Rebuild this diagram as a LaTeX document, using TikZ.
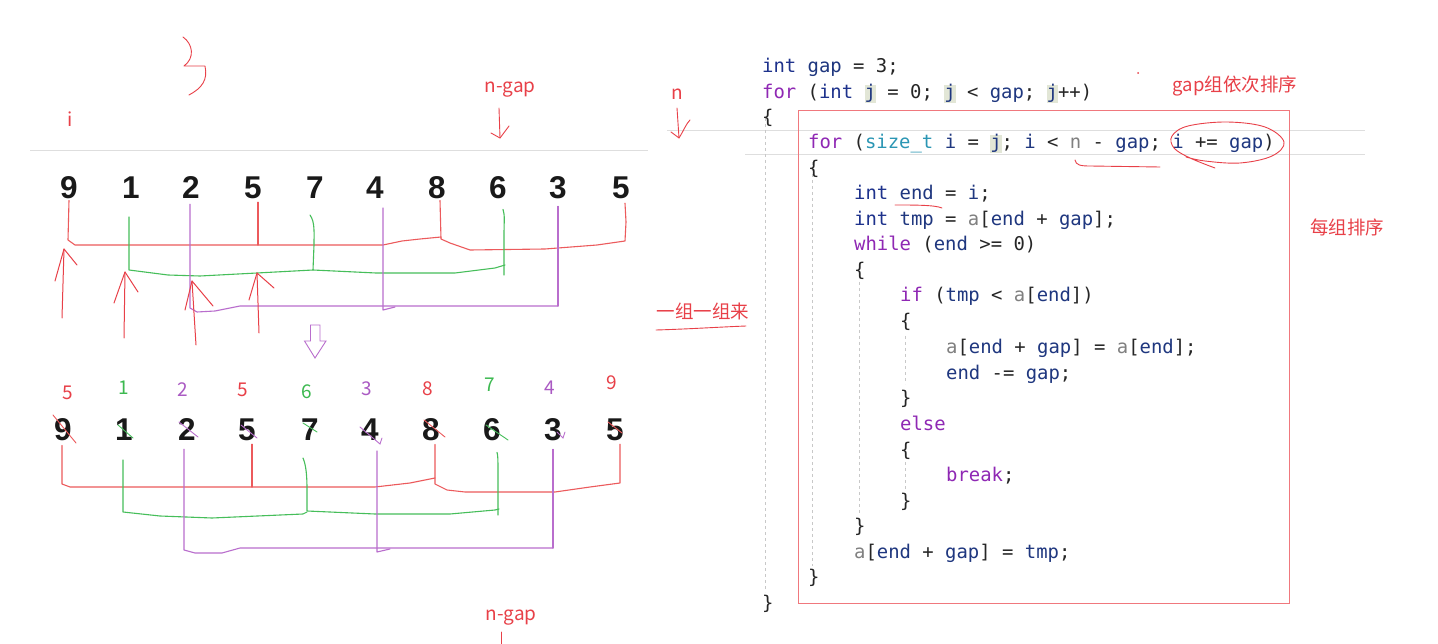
\documentclass[tikz,border=0pt]{standalone}
\usepackage{fontspec}
\setmainfont{Liberation Sans}
\newfontfamily\cjk{Noto Sans CJK SC}
\newfontfamily\codefont{DejaVu Sans Mono}
\newfontfamily\digfont{Liberation Sans}
\usetikzlibrary{calc}
\definecolor{lblred}{RGB}{232,64,72}
\definecolor{lnred}{RGB}{236,90,92}
\definecolor{lngreen}{RGB}{70,190,90}
\definecolor{lblgreen}{RGB}{60,185,80}
\definecolor{lnpurple}{RGB}{185,110,205}
\definecolor{lblpurple}{RGB}{170,90,195}
\definecolor{boxred}{RGB}{240,120,125}
\definecolor{cvar}{RGB}{31,55,127}
\definecolor{ckw}{RGB}{30,50,140}
\definecolor{cctl}{RGB}{143,40,180}
\definecolor{ctyp}{RGB}{43,150,180}
\definecolor{cdim}{RGB}{128,128,128}
\definecolor{hlbg}{RGB}{226,230,214}
\definecolor{guide}{RGB}{200,200,200}
\definecolor{rulec}{RGB}{222,222,222}
\newcommand\cdVar[1]{\textcolor{cvar}{#1}}
\newcommand\cdKw[1]{\textcolor{ckw}{#1}}
\newcommand\cdCtl[1]{\textcolor{cctl}{#1}}
\newcommand\cdTyp[1]{\textcolor{ctyp}{#1}}
\newcommand\cdDim[1]{\textcolor{cdim}{#1}}
\newcommand\cdHl[1]{{\setlength{\fboxsep}{0pt}\colorbox{hlbg}{\vphantom{Ij}#1}}}
\begin{document}
\begin{tikzpicture}[x=1pt,y=-1pt,
  dig/.style={font=\digfont\bfseries\fontsize{31.5}{31.5}\selectfont, inner sep=1pt, text=black!90},
  lbl/.style={font=\cjk\fontsize{19}{19}\selectfont, inner sep=0pt},
  note/.style={font=\cjk\fontsize{18.5}{18.5}\selectfont, text=lblred, inner sep=0pt},
  code/.style={font=\codefont\fontsize{18.9}{20}\selectfont, anchor=base west, inner sep=0pt, text=black!85},
  rb/.style={draw=lnred, line width=1.1pt, line join=round, line cap=round},
  gb/.style={draw=lngreen, line width=1.1pt, line join=round, line cap=round},
  pb/.style={draw=lnpurple, line width=1.1pt, line join=round, line cap=round},
  ra/.style={draw=lblred, line width=1pt, line join=round, line cap=round},
  strike/.style={line width=0.9pt, line cap=round},
  guideline/.style={draw=guide, line width=0.8pt, dash pattern=on 3pt off 3pt}]
\useasboundingbox (0,0) rectangle (1438,644);
\fill[white] (0,0) rectangle (1438,644);

% ---------- rules ----------
\draw[rulec, line width=1pt] (30,151) -- (648,151);
\draw[rulec, line width=1pt] (667,131) -- (1365,131);
\draw[rulec, line width=1pt] (745,155) -- (1365,155);

% ---------- top scribbles ----------
\draw[ra, line width=0.9pt] (183,37) .. controls (193,44) and (195,58) .. (184,66) -- (205,66) .. controls (208,80) and (202,88) .. (189,95);
\node[lbl, text=lblred] (li) at (70,119) {i};
\node[lbl, text=lblred] (lngap) at (510,90) {n-gap};
\coordinate (ngapTip) at (500,138);
\draw[ra, line width=0.9pt] (499,108) -- (ngapTip);
\draw[ra, line width=0.9pt] (491,133) -- (ngapTip) -- (509,126);
\node[lbl, text=lblred] (ln) at (677,94) {n};
\coordinate (nTip) at (679,138);
\draw[ra, line width=0.9pt] (677,108) -- (nTip);
\draw[ra, line width=0.9pt] (671,132) -- (nTip) .. controls (684,130) and (686,124) .. (690,120);

% ---------- row 1 ----------
\foreach \v/\xx [count=\i from 0] in {9/69,1/131,2/191,5/253,7/315,4/375,8/437,6/498,3/558,5/621}
  \node[dig] (r1n\i) at (\xx,188) {\v};

% red group
\draw[rb] (r1n0.south) -- (68,240) -- (75,245) -- (383,245) -- (402,241) -- (420,239) -- (441,237);
\draw[rb] ($(r1n3.south)+(5,2)$) -- (258,245);
\draw[rb] ($(r1n6.south)+(3,0)$) -- (441,239) -- (450,243) -- (470,250) -- (545,249) -- (597,245) -- (625,241) -- (626,222) -- ($(r1n9.south)+(4,3)$);
% green group
\draw[gb] ($(r1n1.south)+(-2,17)$) -- (129,270) -- (168,275) -- (200,276) -- (257,273) -- (313,270);
\draw[gb] ($(r1n4.south)+(-5,15)$) .. controls (315,222) and (314,232) .. (314,245) -- (313,270) -- (376,273) -- (455,273) -- (495,268) -- (505,265);
\draw[gb] ($(r1n7.south)+(5,9)$) .. controls (505,215) and (504,222) .. (504,235) -- (504,275);
% purple group
\draw[pb] ($(r1n2.south)+(-1,4)$) -- (190,308) -- (197,312) -- (215,311) -- (240,306) -- (558,306);
\draw[pb] ($(r1n5.south)+(8,8)$) -- (383,310) -- (395,307);
\draw[pb] ($(r1n8.south)+(0,6)$) -- (558,306);

% red up arrows
\coordinate (upA) at (64,249);
\draw[ra] (62,318) -- (upA);
\draw[ra] (55,281) -- (upA) -- (77,265);
\coordinate (upB) at (125,272);
\draw[ra] (124,338) -- (upB);
\draw[ra] (114,303) -- (upB) -- (138,292);
\coordinate (upC) at (192,281);
\draw[ra] (196,345) -- (upC);
\draw[ra] (185,310) -- (upC) -- (213,306);
\coordinate (upD) at (257,273);
\draw[ra] (259,333) -- (upD);
\draw[ra] (249,300) -- (upD) -- (274,288);

% hollow down arrow
\draw[draw=lnpurple, line width=0.9pt, line join=miter] (310.5,325) -- (320,325) -- (320,341) -- (326,341) -- (315,358) -- (304.5,341) -- (310.5,341) -- cycle;

% note 一组一组来
\node[note] (lgroup) at (703,311) {一组一组来};
\draw[ra, line width=0.9pt] (656,330) .. controls (690,329) and (720,327) .. (746,326);

% ---------- row 2 ----------
\foreach \v/\c/\xx/\yy [count=\i from 0] in {5/lblred/68/393,1/lblgreen/124/388,2/lblpurple/183/390,5/lblred/243/390,6/lblgreen/307/392,3/lblpurple/367/389,8/lblred/428/389,7/lblgreen/490/385,4/lblpurple/550/388,9/lblred/612/383}
  \node[lbl, text=\c] (t\i) at (\xx,\yy) {\v};

\foreach \v/\xx [count=\i from 0] in {9/63,1/124,2/187,5/247,7/310,4/370,8/431,6/492,3/553,5/615}
  \node[dig] (r2n\i) at (\xx,430) {\v};

% strike marks
\draw[strike, lnred] (53,415) -- (76,443);
\draw[strike, lngreen] (118,425) -- (133,438);
\draw[strike, lnpurple] (179,422) -- (198,437);
\draw[strike, lnpurple] (241,425) -- (257,438);
\draw[strike, lngreen] (303,423) -- (317,432);
\draw[strike, lnpurple] (360,427) -- (380,444) -- (382,438);
\draw[strike, lnred] (424,420) -- (445,437);
\draw[strike, lngreen] (486,425) -- (508,440);
\draw[strike, lnpurple] (557,432) -- (563,438) -- (565,432);
\draw[strike, lnred] (608,422) -- (622,433);

% red group
\draw[rb] ($(r2n0.south)+(-1,3)$) -- (62,484) -- (70,487) -- (375,487) -- (410,483) -- (435,478);
\draw[rb] ($(r2n3.south)+(5,2)$) -- (252,487);
\draw[rb] ($(r2n6.south)+(4,2)$) -- (435,484) -- (447,490) -- (465,492) -- (555,492) -- (590,487) -- (620,483) -- (620,455) -- ($(r2n9.south)+(5,2)$);
% green group
\draw[gb] ($(r2n1.south)+(-1,18)$) -- (123,512) -- (160,516) -- (212,518) -- (303,514) -- (307,512);
\draw[gb] ($(r2n4.south)+(-7,16)$) .. controls (306,465) and (307,475) .. (307,490) -- (307,511) -- (375,514) -- (450,514) -- (495,510) -- (499,509);
\draw[gb] ($(r2n7.south)+(5,10)$) .. controls (498,455) and (498,462) .. (498,475) -- (498,515);
% purple group
\draw[pb] ($(r2n2.south)+(-3,7)$) -- (184,550) -- (195,553) -- (222,553) -- (240,548) -- (553,548);
\draw[pb] ($(r2n5.south)+(7,9)$) -- (377,552) -- (390,549);
\draw[pb] ($(r2n8.south)+(0,7)$) -- (553,548);

% bottom n-gap
\node[lbl, text=lblred] (lngap2) at (511,618) {n-gap};
\coordinate (ngapLow) at (501,644);
\coordinate (ngapHigh) at (501,632);
\draw[ra, line width=0.9pt] (ngapHigh) -- (ngapLow);

% ---------- code ----------
\draw[guideline] (765,118) -- (765,592);
\draw[guideline] (812,162) -- (812,566);
\draw[guideline] (859,282) -- (859,513);
\draw[guideline] (905,336) -- (905,384);
\draw[guideline] (905,462) -- (905,490);

\node[code] (c0) at (762,73) {\cdKw{int} \cdVar{gap} = 3;};
\node[code] (c1) at (762,99) {\cdCtl{for} (\cdKw{int} \cdHl{\cdVar{j}} = 0; \cdHl{\cdVar{j}} < \cdVar{gap}; \cdHl{\cdVar{j}}++)};
\node[code] (c2) at (762,124) {\{};
\node[code] (c3) at (808,149) {\cdCtl{for} (\cdTyp{size\_t} \cdVar{i} = \cdHl{\cdVar{j}}; \cdVar{i} < \cdDim{n} - \cdVar{gap}; \cdVar{i} += \cdVar{gap})};
\node[code] (c4) at (808,175) {\{};
\node[code] (c5) at (854,200) {\cdKw{int} \cdVar{end} = \cdVar{i};};
\node[code] (c6) at (854,226) {\cdKw{int} \cdVar{tmp} = \cdDim{a}[\cdVar{end} + \cdVar{gap}];};
\node[code] (c7) at (854,251) {\cdCtl{while} (\cdVar{end} >= 0)};
\node[code] (c8) at (854,277) {\{};
\node[code] (c9) at (900,302) {\cdCtl{if} (\cdVar{tmp} < \cdDim{a}[\cdVar{end}])};
\node[code] (c10) at (900,328) {\{};
\node[code] (c11) at (946,353) {\cdDim{a}[\cdVar{end} + \cdVar{gap}] = \cdDim{a}[\cdVar{end}];};
\node[code] (c12) at (946,379) {\cdVar{end} -= \cdVar{gap};};
\node[code] (c13) at (900,404) {\}};
\node[code] (c14) at (900,430) {\cdCtl{else}};
\node[code] (c15) at (900,456) {\{};
\node[code] (c16) at (946,481) {\cdCtl{break};};
\node[code] (c17) at (900,507) {\}};
\node[code] (c18) at (854,532) {\}};
\node[code] (c19) at (854,558) {\cdDim{a}[\cdVar{end} + \cdVar{gap}] = \cdVar{tmp};};
\node[code] (c20) at (808,583) {\}};
\node[code] (c21) at (762,609) {\}};

% red box
\draw[boxred, line width=1pt] (798.5,110.5) rectangle (1289,603);

% annotations on code
\draw[ra, line width=0.9pt] plot[smooth, tension=0.6] coordinates {(1215,168) (1190,158) (1174,148) (1172,136) (1188,126) (1227,122) (1265,127) (1284,142) (1272,156) (1240,163) (1205,161) (1186,157)};
\draw[ra, line width=0.9pt] (1075,160) .. controls (1076,165) and (1080,166) .. (1090,166) -- (1160,167);
\draw[ra, line width=0.9pt] (895,205) .. controls (915,205) and (935,205) .. (942,208);
\fill[lblred] (1138,73) circle (1pt);
\node[note] (lgapgrp) at (1235,86) {gap组依次排序};
\node[note] (leach) at (1347,227) {每组排序};
\end{tikzpicture}
\end{document}
